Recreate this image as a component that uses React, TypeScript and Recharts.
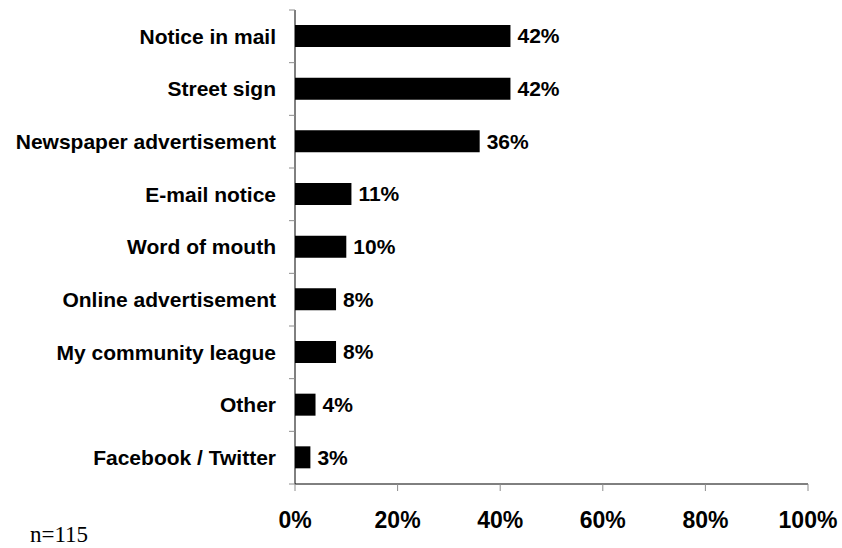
import { Bar, BarChart, LabelList, XAxis, YAxis } from "recharts";

const categories = [
  "Notice in mail",
  "Street sign",
  "Newspaper advertisement",
  "E-mail notice",
  "Word of mouth",
  "Online advertisement",
  "My community league",
  "Other",
  "Facebook / Twitter",
];
const shares = [42, 42, 36, 11, 10, 8, 8, 4, 3];
const percentTicks = [0, 20, 40, 60, 80, 100];
const sampleNote = "n=115";

const data = categories.map((name, i) => ({ name, value: shares[i] }));

const pct = (v: number | string) => `${v}%`;

const LABEL_GAP = 13;
const TICK_LEN = 6;

// category label plus Excel-style tick marks on the band edges (not band centres)
const CategoryTick = (props: any) => {
  const { x, y, payload, index, visibleTicksCount, height } = props;
  const half = payload.offset || height / visibleTicksCount / 2;
  const x1 = x + LABEL_GAP;
  const x2 = x1 + TICK_LEN;
  const isLast = index === visibleTicksCount - 1;
  return (
    <g>
      <line x1={x1} x2={x2} y1={y - half} y2={y - half} stroke="#8c8c8c" />
      {isLast && <line x1={x1} x2={x2} y1={y + half} y2={y + half} stroke="#8c8c8c" />}
      <text x={x} y={y} dy="0.355em" textAnchor="end" fill="#000" fontSize={21} fontWeight="bold">
        {payload.value}
      </text>
    </g>
  );
};

export default function App() {
  return (
    <div
      style={{
        position: "absolute",
        left: 0,
        top: 0,
        width: 842,
        height: 548,
        background: "#fff",
        fontFamily: "'Liberation Sans', Arial, sans-serif",
      }}
    >
      <BarChart
        width={842}
        height={548}
        data={data}
        layout="vertical"
        margin={{ top: 10, right: 34, bottom: 0, left: 0 }}
        barSize={22}
      >
        <YAxis
          type="category"
          dataKey="name"
          width={295}
          interval={0}
          tickLine={false}
          tickSize={TICK_LEN}
          tickMargin={LABEL_GAP}
          axisLine={{ stroke: "#000" }}
          tick={CategoryTick}
        />
        <XAxis
          type="number"
          domain={[0, 100]}
          ticks={percentTicks}
          interval={0}
          height={64}
          tickSize={7}
          tickMargin={21}
          tickFormatter={pct}
          axisLine={{ stroke: "#000" }}
          tickLine={{ stroke: "#8c8c8c" }}
          tick={{ fill: "#000", fontSize: 23, fontWeight: "bold" }}
        />
        <Bar dataKey="value" fill="#000" isAnimationActive={false}>
          <LabelList
            dataKey="value"
            position="right"
            offset={7}
            formatter={pct}
            fill="#000"
            fontSize={21}
            fontWeight="bold"
          />
        </Bar>
      </BarChart>
      <svg
        width={842}
        height={548}
        style={{ position: "absolute", left: 0, top: 0, pointerEvents: "none" }}
      >
        <text x={30} y={542} fontFamily="'Liberation Serif', 'Times New Roman', serif" fontSize={23} fill="#000">
          {sampleNote}
        </text>
      </svg>
    </div>
  );
}
